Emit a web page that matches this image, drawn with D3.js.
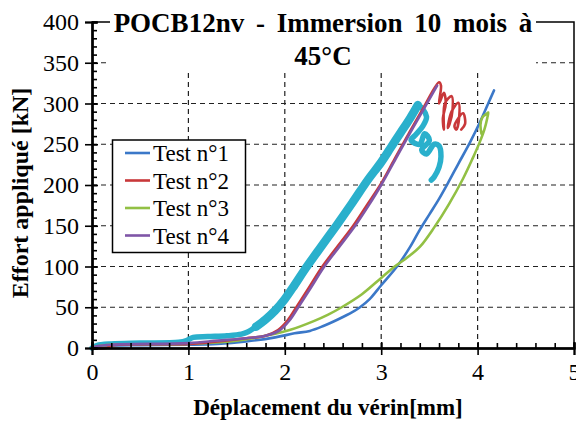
<!DOCTYPE html>
<html><head><meta charset="utf-8">
<script src="https://cdn.jsdelivr.net/npm/d3@7"></script>
</head>
<body style="margin:0"><svg id="c" width="576" height="421"></svg>
<script>
const titleLines = ["POCB12nv - Immersion 10 mois à", "45°C"];
const xLabel = "Déplacement du vérin[mm]";
const yLabel = "Effort appliqué [kN]";
const xTicks = [0,1,2,3,4,5];
const yTicks = [0,50,100,150,200,250,300,350,400];
const legendNames = ["Test n°1","Test n°2","Test n°3","Test n°4"];
const colors = ["#3b78c8","#c8383a","#92c044","#7f56a7","#2ab0cc"];

const test1 = [[0,0],[0.05,2],[0.15,3],[0.5,3.5],[1.0,4],[1.3,5],[1.6,8],[1.9,13],[2.1,18],[2.26,21],[2.4,27],[2.55,35],[2.7,44],[2.78,50],[2.88,60],[3.0,77],[3.17,101],[3.3,124],[3.4,145],[3.5,164],[3.6,183],[3.7,204],[3.8,226],[3.92,252],[4.02,276],[4.11,300],[4.17,316]];
const test2 = [[0,0],[0.15,0],[0.2,3],[1.0,5],[1.3,8],[1.6,12],[1.8,15],[1.93,22],[2.03,34],[2.12,50],[2.25,74],[2.39,100],[2.55,125],[2.71,150],[2.85,175],[2.99,200],[3.14,232],[3.29,264],[3.44,295],[3.6,326],[3.62,322],[3.6,300],[3.65,313],[3.67,300],[3.64,282],[3.65,268],[3.66,300],[3.73,309],[3.74,292],[3.71,275],[3.69,270],[3.73,290],[3.8,301],[3.81,285],[3.78,268],[3.76,272],[3.8,282],[3.85,288],[3.87,275],[3.83,268]];
const test3 = [[0,0],[0.05,2],[0.2,4],[1.0,5],[1.5,9],[1.8,15],[2.05,22],[2.3,33],[2.45,41],[2.59,50],[2.8,66],[3.0,86],[3.14,100],[3.27,111],[3.4,124],[3.55,148],[3.7,176],[3.85,208],[3.95,233],[4.02,252],[4.07,268],[4.1,282],[4.11,289],[4.09,287],[4.05,283],[4.03,274],[4.04,263]];
const test4 = [[0,0],[0.05,2],[0.2,4],[1.0,6],[1.3,9],[1.6,12],[1.8,15],[1.95,22],[2.05,34],[2.14,50],[2.27,74],[2.41,100],[2.57,125],[2.73,150],[2.87,175],[3.0,200],[3.15,232],[3.3,264],[3.45,295],[3.58,322]];
const test5 = [[0,0],[0.05,3],[0.2,5],[0.5,6],[0.9,7],[0.98,9],[1.05,13],[1.2,14],[1.4,15],[1.55,17],[1.62,20],[1.7,26],[1.8,35],[1.9,46],[2.0,60],[2.1,77],[2.2,95],[2.35,120],[2.54,151],[2.7,178],[2.86,206],[3.0,228],[3.1,246],[3.2,264],[3.3,282],[3.38,298],[3.47,284],[3.43,272],[3.36,262],[3.31,255],[3.4,250],[3.45,263],[3.5,255],[3.42,243],[3.47,238],[3.55,250],[3.6,248],[3.62,235],[3.6,222],[3.55,210],[3.52,206]];

const FONT = '"Liberation Serif"';
const svg = d3.select("#c");
const x = d3.scaleLinear().domain([0,5]).range([92,574]);
const y = d3.scaleLinear().domain([0,400]).range([348,22]);

// gridlines
const grid = svg.append("g").attr("stroke","#222").attr("stroke-width",1.2).attr("stroke-dasharray","5,4");
grid.selectAll(".hg").data(yTicks.filter(d=>d>0&&d<400)).join("line")
  .attr("x1",x(0)).attr("x2",x(5)).attr("y1",d=>y(d)).attr("y2",d=>y(d));
grid.selectAll(".vg").data(xTicks.filter(d=>d>0&&d<5)).join("line")
  .attr("x1",d=>x(d)).attr("x2",d=>x(d)).attr("y1",y(0)).attr("y2",y(400));

// frame top/right
svg.append("path").attr("d",`M${x(0)},${y(400)}H${x(5)}V${y(0)}`).attr("fill","none").attr("stroke","#000").attr("stroke-width",1.5);

// series
const line = d3.line().x(d=>x(d[0])).y(d=>y(d[1])).curve(d3.curveCatmullRom.alpha(0.5));
const order = [[test5,4,5.5],[test5.filter(d=>d[0]>=1.7&&d[1]>=26&&d[1]<=298&&test5.indexOf(d)<=test5.findIndex(p=>p[1]===298)),4,8.5],
  [test1,0,2.6],[test3,2,2.6],[test2,1,2.6],[test4,3,2.6]];
order.forEach(([data,ci,w])=>{
  svg.append("path").attr("d",line(data)).attr("fill","none").attr("stroke",colors[ci])
    .attr("stroke-width",w).attr("stroke-linejoin","round").attr("stroke-linecap","round");
});

// title box
svg.append("rect").attr("x",110).attr("y",0).attr("width",426).attr("height",71).attr("fill","#fff");
svg.append("text").attr("x",323).attr("y",32).attr("text-anchor","middle").attr("font-size",27)
  .style("font-family",FONT).style("font-weight","bold").style("word-spacing","5px").text(titleLines[0]);
svg.append("text").attr("x",323).attr("y",65).attr("text-anchor","middle").attr("font-size",27)
  .style("font-family",FONT).style("font-weight","bold").text(titleLines[1]);

// axes
const axes = svg.append("g");
const yAxisOut = d3.axisLeft(y).tickValues(yTicks).tickSize(7).tickPadding(6).tickFormat(d3.format("d"));
const yAxisIn = d3.axisRight(y).tickValues(yTicks).tickSize(6).tickFormat("");
const yAxisMinor = d3.axisRight(y).tickValues(d3.range(0,401,10)).tickSize(5).tickFormat("");
const xAxisOut = d3.axisBottom(x).tickValues(xTicks).tickSize(7).tickPadding(8).tickFormat(d3.format("d"));
const xAxisIn = d3.axisTop(x).tickValues(xTicks).tickSize(6).tickFormat("");
const xAxisMinor = d3.axisTop(x).tickValues(d3.range(0,5.01,0.2)).tickSize(5).tickFormat("");
[[yAxisOut,`translate(${x(0)},0)`],[yAxisIn,`translate(${x(0)},0)`],[yAxisMinor,`translate(${x(0)},0)`],
 [xAxisOut,`translate(0,${y(0)})`],[xAxisIn,`translate(0,${y(0)})`],[xAxisMinor,`translate(0,${y(0)})`]].forEach(([ax,tr])=>{
  const g = axes.append("g").attr("transform",tr).call(ax);
  g.attr("font-family",null);
  g.select(".domain").attr("stroke","#000").attr("stroke-width",2);
  g.selectAll(".tick line").attr("stroke","#000").attr("stroke-width",1.6);
  g.selectAll(".tick text").attr("font-size",24).attr("fill","#000").style("font-family",FONT);
});

// axis labels
svg.append("text").attr("x",328).attr("y",415).attr("text-anchor","middle").attr("font-size",23)
  .style("font-family",FONT).style("font-weight","bold").text(xLabel);
svg.append("text").attr("transform","translate(28,193) rotate(-90)").attr("text-anchor","middle").attr("font-size",24)
  .style("font-family",FONT).style("font-weight","bold").text(yLabel);

// legend
const lg = svg.append("g");
lg.append("rect").attr("x",112.5).attr("y",140).attr("width",133).attr("height",112.5).attr("fill","#fff").attr("stroke","#000").attr("stroke-width",1.5);
legendNames.forEach((n,i)=>{
  const cy = 153 + i*27.5;
  lg.append("line").attr("x1",125).attr("x2",150).attr("y1",cy).attr("y2",cy).attr("stroke",colors[i]).attr("stroke-width",2.6);
  lg.append("text").attr("x",153).attr("y",cy+8).attr("font-size",23).style("font-family",FONT).text(n);
});
</script></body></html>
